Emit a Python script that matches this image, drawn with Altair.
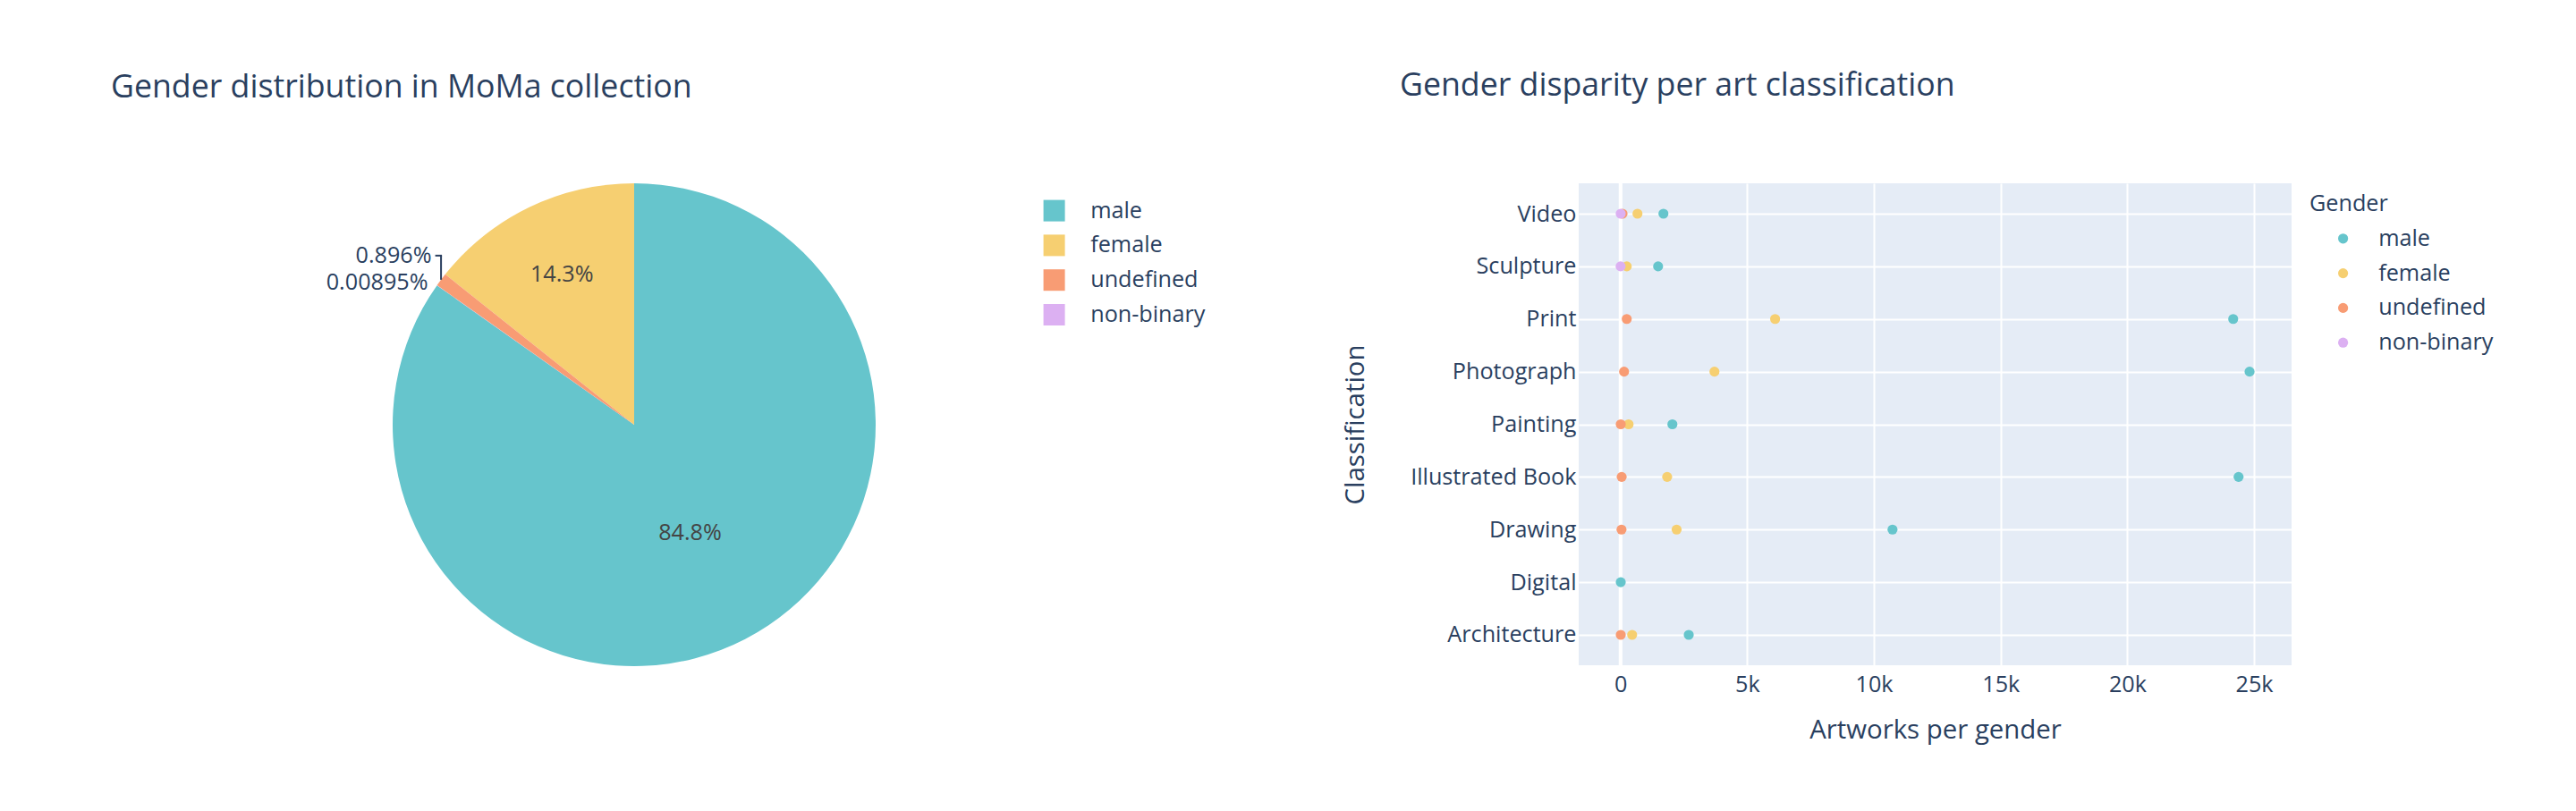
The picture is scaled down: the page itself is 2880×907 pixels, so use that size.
import math
import altair as alt
import pandas as pd

FONT = "Open Sans"
TXT = "#2a3f5f"
F_TITLE = 35.7
F_AXIS = 29.4
F_TICK = 25.2

# ---------------- data ----------------
genders = ["male", "female", "undefined", "non-binary"]
gender_colors = ["#66C5CC", "#F6CF71", "#F89C74", "#DCB0F2"]

# pie: artworks per gender (whole collection)
pie_counts = [94750, 15980, 1001, 10]

# scatter: artworks per gender and classification
classifications = ["Architecture", "Digital", "Drawing", "Illustrated Book",
                   "Painting", "Photograph", "Print", "Sculpture", "Video"]
male_counts = [2693, 10, 10733, 24389, 2047, 24823, 24177, 1483, 1694]
female_counts = [459, None, 2214, 1841, 318, 3707, 6100, 247, 670]
undefined_counts = [10, None, 39, 46, 10, 141, 246, None, 80]
nonbinary_counts = [None, None, None, None, None, None, None, 3, 7]

x_ticks = [0, 5000, 10000, 15000, 20000, 25000]

# ---------------- tables ----------------
pie_df = pd.DataFrame({"gender": genders, "count": pie_counts})

rows = []
for g, vals in zip(genders, [male_counts, female_counts, undefined_counts, nonbinary_counts]):
    for c, v in zip(classifications, vals):
        if v is not None:
            rows.append({"gender": g, "classification": c, "count": v})
sdf = pd.DataFrame(rows)

color_scale = alt.Scale(domain=genders, range=gender_colors)

# ---------------- pie ----------------
PIE_W = 540
R = 270
clock_order = ["male", "non-binary", "undefined", "female"]

pie_base = alt.Chart(pie_df).transform_calculate(
    ord="indexof(['male','non-binary','undefined','female'], datum.gender)"
).transform_joinaggregate(
    total="sum(count)"
).transform_window(
    cum="sum(count)", sort=[alt.SortField("ord")]
).transform_calculate(
    t0="2*PI*(datum.cum - datum.count)/datum.total",
    t1="2*PI*datum.cum/datum.total",
    tm="PI*(2*datum.cum - datum.count)/datum.total",
    pct="datum.count/datum.total",
)

arcs = pie_base.mark_arc(radius=R, strokeWidth=0).encode(
    theta=alt.Theta("t0:Q", scale=None),
    theta2="t1:Q",
    color=alt.Color(
        "gender:N", scale=color_scale,
        legend=alt.Legend(
            title=None, orient="none", legendX=727, legendY=18, padding=0,
            symbolType="square", symbolSize=576, symbolStrokeWidth=0, symbolOpacity=1,
            labelFont=FONT, labelFontSize=F_TICK, labelColor=TXT, labelOffset=28,
            rowPadding=12.8,
        ),
    ),
)


def inside_label(g, radius):
    return pie_base.transform_filter(f"datum.gender == '{g}'").mark_text(
        radius=radius, fontSize=F_TICK, font=FONT, color="#444444",
        align="center", baseline="middle",
    ).encode(theta=alt.Theta("tm:Q", scale=None), text=alt.Text("pct:Q", format=".3p"))


def outside_label(g, dx, dy):
    return pie_base.transform_filter(f"datum.gender == '{g}'").mark_text(
        radius=R, dx=dx, dy=dy, fontSize=F_TICK, font=FONT, color=TXT,
        align="right", baseline="middle",
    ).encode(theta=alt.Theta("tm:Q", scale=None), text=alt.Text("pct:Q", format=".3p"))


# leader line for the 'undefined' slice, derived from the slice angle
total = sum(pie_counts)
cum = 0
mid_angle = {}
for g in clock_order:
    c = pie_counts[genders.index(g)]
    mid_angle[g] = 2 * math.pi * (cum + c / 2) / total
    cum += c
cx = cy = PIE_W / 2
th = mid_angle["undefined"]
xe = cx + R * math.sin(th)
ye = cy - R * math.cos(th)
LEAD = 27
undef_one = pie_base.transform_filter("datum.gender == 'undefined'")
lead_v = undef_one.mark_rule(color=TXT, strokeWidth=2).encode(
    x=alt.value(xe), x2=alt.value(xe), y=alt.value(ye), y2=alt.value(ye - LEAD))
lead_h = undef_one.mark_rule(color=TXT, strokeWidth=2).encode(
    x=alt.value(xe - 6.5), x2=alt.value(xe + 1), y=alt.value(ye - LEAD), y2=alt.value(ye - LEAD))

pie = alt.layer(
    arcs,
    inside_label("male", 136),
    inside_label("female", 186),
    outside_label("undefined", -10.5, -LEAD),
    outside_label("non-binary", -10, -3),
    lead_v, lead_h,
).properties(
    width=PIE_W, height=PIE_W,
    title=alt.Title(
        "Gender distribution in MoMa collection", anchor="start", frame="group",
        dx=-315, offset=60, baseline="alphabetic",
        font=FONT, fontSize=F_TITLE, fontWeight="normal", color=TXT,
    ),
)

# ---------------- scatter ----------------
SW, SH = 797, 539

zero_line = alt.Chart(sdf).transform_aggregate(n="count()").mark_rule(
    color="white", strokeWidth=4
).encode(x=alt.datum(0))

points = alt.Chart(sdf).mark_circle(size=125, opacity=1).encode(
    x=alt.X(
        "count:Q",
        scale=alt.Scale(domain=[-1650, 26480], nice=False, zero=False),
        axis=alt.Axis(
            values=x_ticks, labelExpr="datum.value == 0 ? '0' : format(datum.value, '~s')",
            title="Artworks per gender",
            grid=True, gridColor="white", gridWidth=2, domain=False, ticks=False, tickSize=0,
            labelPadding=9, labelFont=FONT, labelFontSize=F_TICK, labelColor=TXT,
            titleFont=FONT, titleFontSize=F_AXIS, titleFontWeight="normal", titleColor=TXT,
            titleY=72, titleBaseline="middle",
        ),
    ),
    y=alt.Y(
        "classification:N",
        scale=alt.Scale(type="point", domain=classifications[::-1], padding=0.578),
        axis=alt.Axis(
            title="Classification",
            grid=True, gridColor="white", gridWidth=2, domain=False, ticks=False, tickSize=0,
            labelPadding=3, labelLimit=500, labelFont=FONT, labelFontSize=F_TICK, labelColor=TXT,
            titleFont=FONT, titleFontSize=F_AXIS, titleFontWeight="normal", titleColor=TXT,
            titleX=-250, titleY=SH / 2, titleAngle=270, titleAlign="center", titleBaseline="middle",
        ),
    ),
    color=alt.Color(
        "gender:N", scale=color_scale,
        legend=alt.Legend(
            title="Gender", orient="none", legendX=817, legendY=11, padding=0,
            titleFont=FONT, titleFontSize=F_TICK, titleFontWeight="normal", titleColor=TXT,
            titlePadding=13,
            symbolType="circle", symbolSize=125, symbolStrokeWidth=0, symbolOpacity=1,
            symbolOffset=25, labelOffset=27,
            labelFont=FONT, labelFontSize=F_TICK, labelColor=TXT, rowPadding=12.8,
        ),
    ),
)

scatter = alt.layer(zero_line, points).properties(
    width=SW, height=SH,
    view=alt.ViewBackground(fill="#E5ECF6", strokeWidth=0),
    title=alt.Title(
        "Gender disparity per art classification", anchor="start", frame="group",
        dx=-200, offset=60, baseline="alphabetic",
        font=FONT, fontSize=F_TITLE, fontWeight="normal", color=TXT,
    ),
)

chart = alt.hconcat(pie, scatter, spacing=786, bounds="flush").resolve_scale(
    color="independent"
).resolve_legend(
    color="independent"
).properties(
    padding={"left": 116, "top": 70, "right": 5, "bottom": 40},
    background="white",
).configure(font=FONT).configure_view(strokeWidth=0)

chart.save("out.html", embed_options={"renderer": "svg", "actions": False})
